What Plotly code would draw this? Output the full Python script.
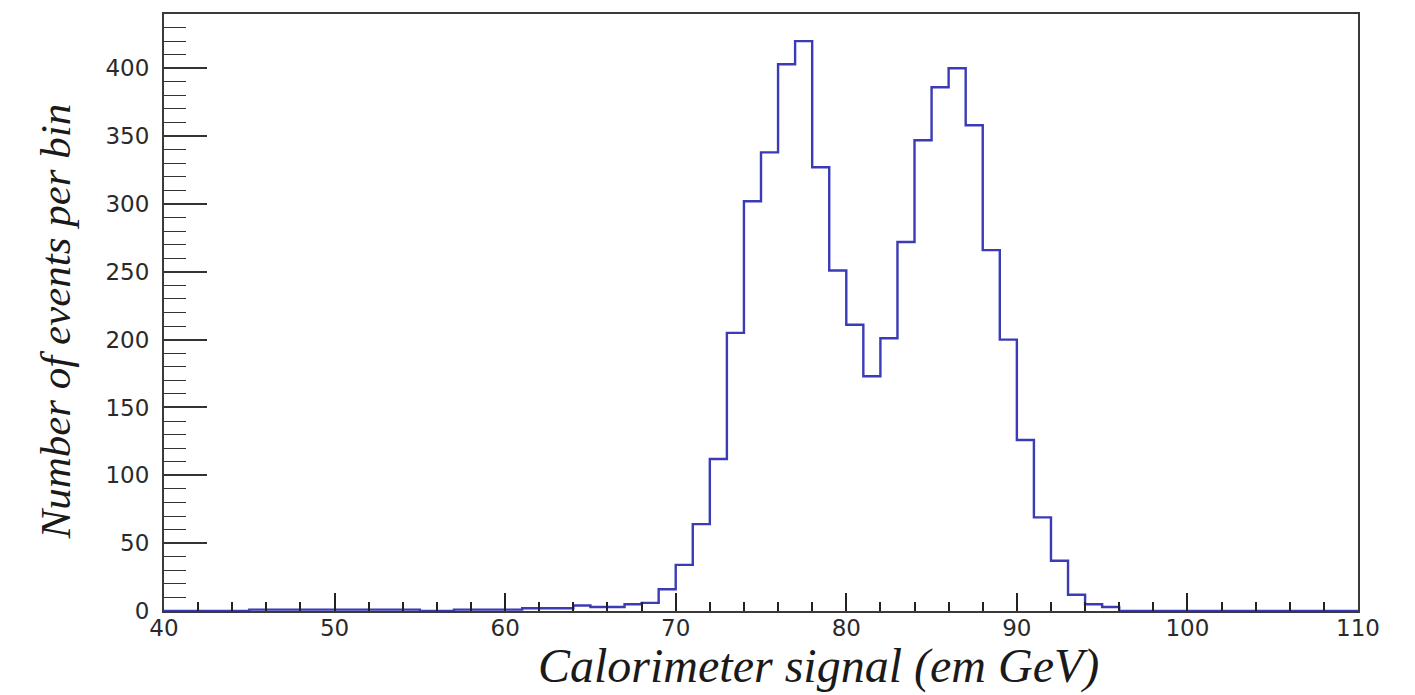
import plotly.graph_objects as go

# Histogram of calorimeter signal, 1 GeV bins from 40 to 110 GeV
bin_edges = list(range(40, 111))
counts = [
    0, 0, 0, 0, 0,                      # 40-44
    1, 1, 1, 1, 1, 1, 1, 1, 1, 1,       # 45-54
    0, 0, 1, 1, 1, 1, 2, 2, 2, 4,       # 55-64
    3, 3, 5, 6,                         # 65-68
    16, 34, 64, 112, 205, 302, 338, 403, 420, 327,   # 69-78
    251, 211, 173, 201, 272, 347, 386, 400, 358, 266,  # 79-88
    200, 126, 69, 37, 12, 5, 3,          # 89-95
    0, 0, 0, 0, 0, 0, 0, 0, 0, 0, 0, 0, 0, 0,  # 96-109
]

x_title = "Calorimeter signal (em GeV)"
y_title = "Number of events per bin"

# step outline: each count held across its bin
step_x = bin_edges
step_y = counts + [counts[-1]]

fig = go.Figure(
    go.Scatter(
        x=step_x,
        y=step_y,
        mode="lines",
        line=dict(shape="hv", color="#3b3bb6", width=2.4),
        hoverinfo="skip",
    )
)

tick_font = dict(family="DejaVu Sans, Arial, sans-serif", size=23, color="#2a2a2a")
title_family = "Liberation Serif, Times New Roman, serif"

fig.update_layout(
    width=1415,
    height=695,
    margin=dict(l=164, r=57, t=12, b=84),
    paper_bgcolor="white",
    plot_bgcolor="white",
    showlegend=False,
    xaxis=dict(
        range=[40, 110],
        tick0=40,
        dtick=10,
        ticks="inside",
        ticklen=18,
        tickwidth=2,
        tickcolor="#222",
        minor=dict(dtick=2, ticks="inside", ticklen=9, tickwidth=2, tickcolor="#222"),
        showgrid=False,
        zeroline=False,
        showline=True,
        linecolor="#3a3a3a",
        linewidth=2,
        mirror=True,
        tickfont=tick_font,
        ticklabelstandoff=-5,
        layer="above traces",
    ),
    yaxis=dict(
        range=[0, 440],
        tick0=0,
        dtick=50,
        ticks="inside",
        ticklen=43,
        tickwidth=1.6,
        tickcolor="#333",
        minor=dict(dtick=10, ticks="inside", ticklen=22, tickwidth=1.4, tickcolor="#333"),
        showgrid=False,
        zeroline=False,
        showline=True,
        linecolor="#3a3a3a",
        linewidth=2,
        mirror=True,
        tickfont=tick_font,
        ticklabelstandoff=8,
        layer="above traces",
    ),
    annotations=[
        dict(
            text=f"<i>{x_title}</i>",
            xref="paper", yref="paper",
            x=0.548, y=0,
            xanchor="center", yanchor="middle",
            yshift=-55,
            showarrow=False,
            font=dict(family=title_family, size=48, color="#1a1a1a"),
        ),
        dict(
            text=f"<i>{y_title}</i>",
            xref="paper", yref="paper",
            x=0, y=0.485,
            xanchor="center", yanchor="middle",
            xshift=-109,
            textangle=-90,
            showarrow=False,
            font=dict(family=title_family, size=43, color="#1a1a1a"),
        ),
    ],
)

fig.write_html("out.html")
